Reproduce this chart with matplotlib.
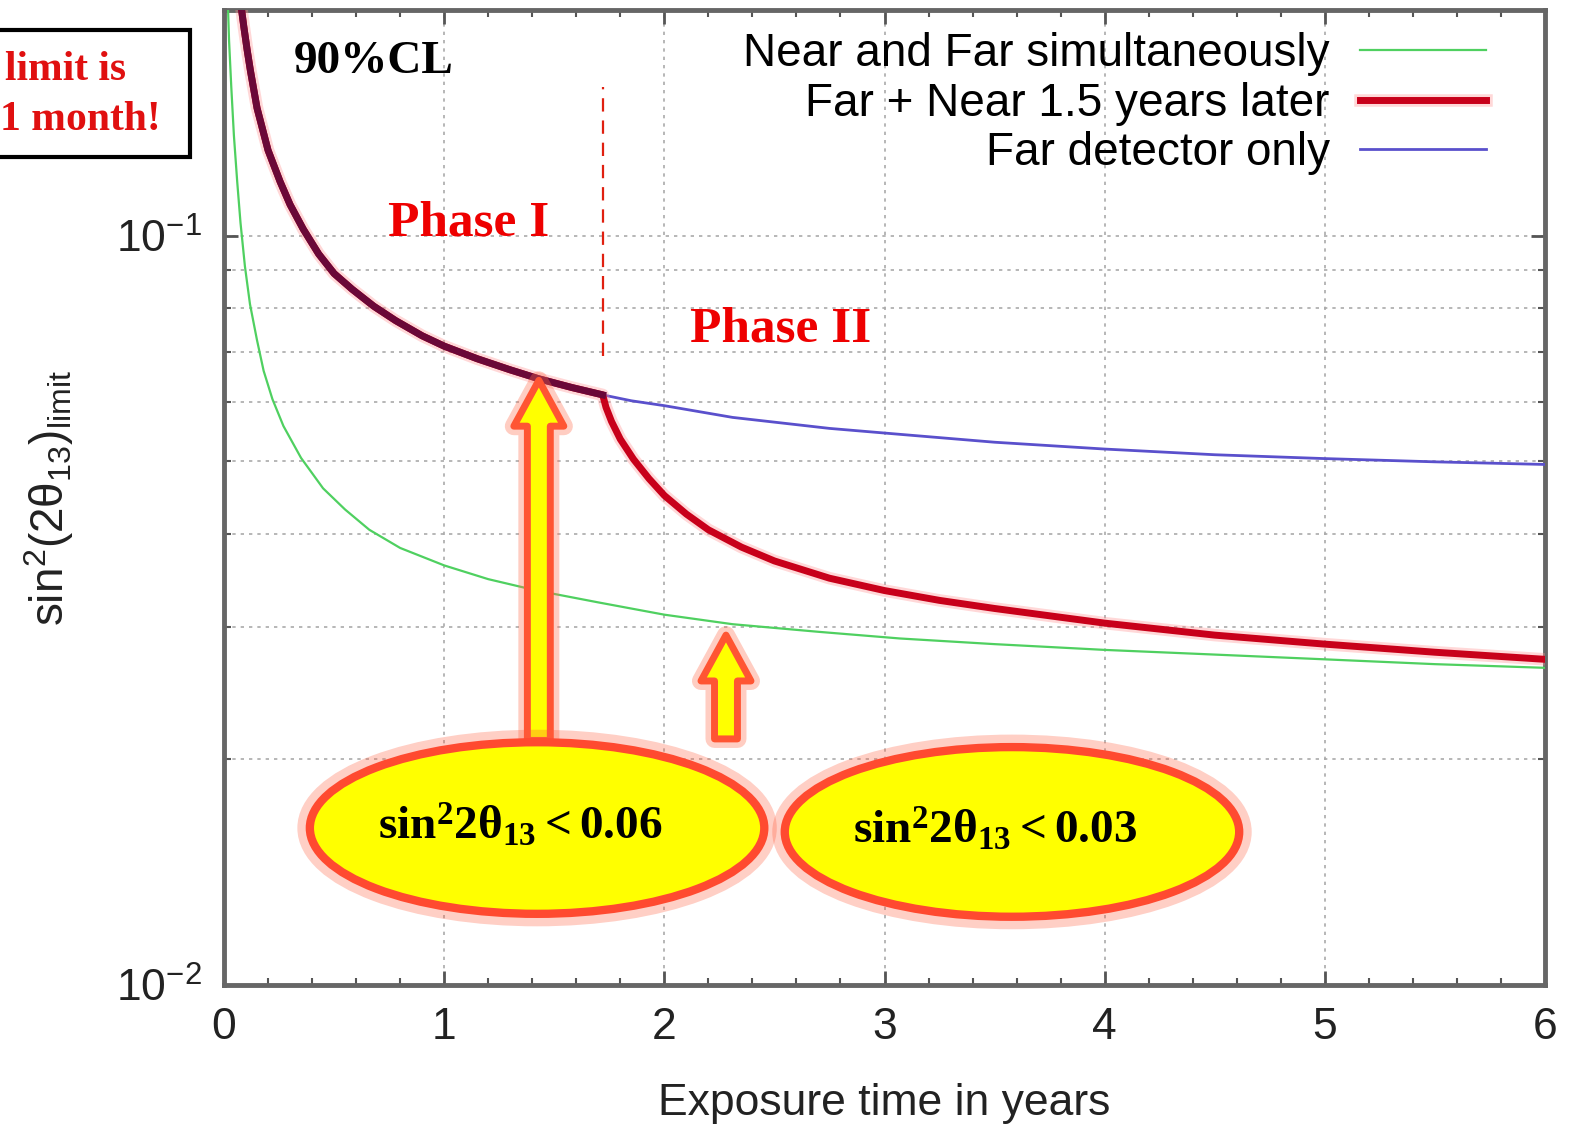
# %%
import matplotlib
matplotlib.use('Agg')
from matplotlib import pyplot as plt
from matplotlib.patches import Ellipse, Rectangle
import matplotlib.patheffects as pe
from matplotlib.ticker import MultipleLocator, NullFormatter

# %% data: sin^2(2 theta13) limit vs exposure time [years]
# Far detector only
t_far = [0.08, 0.09, 0.105, 0.12, 0.15, 0.2, 0.255, 0.3, 0.36, 0.43, 0.5, 0.582,
         0.68, 0.78, 0.9, 1.0, 1.15, 1.3, 1.43, 1.58, 1.72, 1.85, 2.0, 2.31, 2.75,
         3.07, 3.5, 4.0, 4.5, 5.0, 5.5, 6.0]
s_far = [0.200, 0.190, 0.177, 0.166, 0.148, 0.130, 0.118, 0.110, 0.102, 0.0945,
         0.089, 0.0848, 0.0805, 0.0770, 0.0735, 0.0712, 0.0685, 0.0662, 0.0644,
         0.0627, 0.0613, 0.0602, 0.0593, 0.0572, 0.0553, 0.0543, 0.0530, 0.0519,
         0.0510, 0.0504, 0.0499, 0.0495]

# Near and Far simultaneously
t_both = [0.015, 0.023, 0.033, 0.045, 0.06, 0.075, 0.095, 0.118, 0.15, 0.18, 0.22,
          0.27, 0.35, 0.45, 0.55, 0.66, 0.8, 1.0, 1.2, 1.42, 1.7, 2.0, 2.31, 2.7,
          3.07, 3.5, 4.0, 4.5, 5.0, 5.5, 6.0]
s_both = [0.215, 0.182, 0.158, 0.136, 0.118, 0.104, 0.091, 0.081, 0.0725, 0.066,
          0.0605, 0.0557, 0.0505, 0.046, 0.0431, 0.0405, 0.0383, 0.0363, 0.0348,
          0.0336, 0.0324, 0.0312, 0.0303, 0.0296, 0.0290, 0.0285, 0.0280, 0.0276,
          0.0272, 0.0268, 0.0265]

# Far + Near 1.5 years later (after the near detector comes in)
PHASE_SPLIT = 1.72
t_late = [1.72, 1.735, 1.76, 1.80, 1.86, 1.93, 2.0, 2.1, 2.2, 2.35, 2.5, 2.75, 3.0,
          3.25, 3.5, 4.0, 4.5, 5.0, 5.5, 6.0]
s_late = [0.0613, 0.0590, 0.0565, 0.0535, 0.0503, 0.0474, 0.0450, 0.0425, 0.0405,
          0.0384, 0.0368, 0.0349, 0.0336, 0.0326, 0.0318, 0.0304, 0.0293, 0.0285,
          0.0278, 0.0272]

split_ylim = [0.069, 0.158]
arrow_x = [1.43, 2.28]
arrow_tip = [0.0641, 0.0293]
arrow_base = [0.0212, 0.0213]
bubble_txt = [r'$\mathbf{sin^{2}2\theta_{13} < 0.06}$',
              r'$\mathbf{sin^{2}2\theta_{13} < 0.03}$']

#%% style
plt.rcParams['mathtext.fontset'] = 'custom'
plt.rcParams['mathtext.bf'] = 'Liberation Serif:bold'
plt.rcParams['mathtext.rm'] = 'Liberation Sans'
plt.rcParams['mathtext.it'] = 'Liberation Sans'
SANS = 'Liberation Sans'
SERIF = 'Liberation Serif'
C_GREEN = '#4fd060'
C_BLUE = '#5a50cc'
C_RED = '#c8001a'
C_MAROON = '#6a0838'
C_TXT = '#222222'

fig = plt.figure(figsize=(15.8, 11.32), dpi=100)
ax = fig.add_axes([224/1580, 147/1132, 1321/1580, 975/1132])
ax.set_yscale('log')

ax.plot(t_both, s_both, color=C_GREEN, lw=1.6, label='Near and Far simultaneously', zorder=3)
t_fn = [t for t in t_far if t < PHASE_SPLIT] + t_late
s_fn = [s for t, s in zip(t_far, s_far) if t < PHASE_SPLIT] + s_late
ax.plot(t_fn, s_fn, color=C_RED, lw=5, label='Far + Near 1.5 years later', zorder=4,
        path_effects=[pe.Stroke(linewidth=9, foreground='#ff9090', alpha=0.35), pe.Normal()])
ax.plot(t_far, s_far, color=C_BLUE, lw=2, label='Far detector only', zorder=3)
n_early = len([t for t in t_fn if t <= PHASE_SPLIT])
ax.plot(t_fn[:n_early], s_fn[:n_early], color=C_MAROON, lw=5, zorder=5, label='_nolegend_')

ax.vlines(PHASE_SPLIT, *split_ylim, colors='#e02010', lw=1.6, linestyles=(0, (6, 4)), zorder=2)

ax.set_xlim(0, 6)
ax.set_ylim(0.01, 0.2)
ax.xaxis.set_major_locator(MultipleLocator(1))
ax.xaxis.set_minor_locator(MultipleLocator(0.2))
ax.yaxis.set_minor_formatter(NullFormatter())
ax.grid(which='major', axis='x', ls=(0, (2, 3)), color='#aaaaaa', lw=1.2)
ax.grid(which='both', axis='y', ls=(0, (2, 3)), color='#aaaaaa', lw=1.2)
ax.tick_params(which='both', direction='in', top=True, right=True, colors='#555555',
               labelcolor=C_TXT, labelsize=32, pad=16)
ax.tick_params(which='major', length=10, width=2)
ax.tick_params(which='minor', length=5, width=1.5)
for lab in ax.get_xticklabels() + ax.get_yticklabels():
    lab.set_family(SANS)
for sp in ax.spines.values():
    sp.set_color('#666666')
    sp.set_linewidth(3.5)

ax.set_xlabel('Exposure time in years', fontsize=32, family=SANS, color=C_TXT, labelpad=25)
ax.set_ylabel(r'$\mathrm{sin^2(2\theta_{13})_{limit}}$', fontsize=33, color=C_TXT, labelpad=29)

leg = ax.legend(loc='upper right', bbox_to_anchor=(0.955, 0.977), frameon=False,
                markerfirst=False, prop={'family': SANS, 'size': 33},
                handlelength=2.75, handletextpad=0.65, labelspacing=0.115,
                borderpad=0, borderaxespad=0)
for col in leg._legend_handle_box.get_children():
    col.align = 'right'

# annotations
ax.text(0.113, 0.947, '90%CL', transform=ax.transAxes, ha='center', va='center',
        family=SERIF, weight='bold', fontsize=34, color='black')
ax.text(0.185, 0.7815, 'Phase I', transform=ax.transAxes, ha='center', va='center',
        family=SERIF, weight='bold', fontsize=37, color='#ee0000')
ax.text(0.421, 0.672, 'Phase II', transform=ax.transAxes, ha='center', va='center',
        family=SERIF, weight='bold', fontsize=37, color='#ee0000')

for xa, yt, yb in zip(arrow_x, arrow_tip, arrow_base):
    ax.annotate('', xy=(xa, yt), xytext=(xa, yb), zorder=6,
                arrowprops=dict(arrowstyle='simple,head_length=1.1,head_width=1.2,tail_width=0.55',
                                fc='#ffff00', ec='#ff5533', lw=5, mutation_scale=30,
                                shrinkA=0, shrinkB=0,
                                path_effects=[pe.Stroke(linewidth=13, foreground='#ff7050', alpha=0.35),
                                              pe.Normal()]))

bubbles = [((0.237, 0.161), 0.344, 0.176), ((0.5965, 0.157), 0.344, 0.174)]
for (cxy, w, h), txt in zip(bubbles, bubble_txt):
    e = Ellipse(cxy, w, h, transform=ax.transAxes, fc='#ffff00', ec='#ff4a30', lw=6, zorder=7,
                path_effects=[pe.Stroke(linewidth=18, foreground='#ff6040', alpha=0.3), pe.Normal()])
    ax.add_patch(e)
    ax.text(cxy[0] - 0.013, cxy[1] + 0.002, txt, transform=ax.transAxes, ha='center',
            va='center', fontsize=34, color='black', zorder=8)

# boxed note in the upper left corner
fig.patches.append(Rectangle((-0.01, 1 - 157/1132), 0.13, 127/1132, transform=fig.transFigure,
                             fc='white', ec='black', lw=3))
fig.text(0.003, 1 - 70/1132, 'limit is', ha='left', va='center', family=SERIF,
         weight='bold', fontsize=30, color='#e01010')
fig.text(0.0, 1 - 120/1132, '1 month!', ha='left', va='center', family=SERIF,
         weight='bold', fontsize=30, color='#e01010')

fig.savefig('out.png', dpi=100)
